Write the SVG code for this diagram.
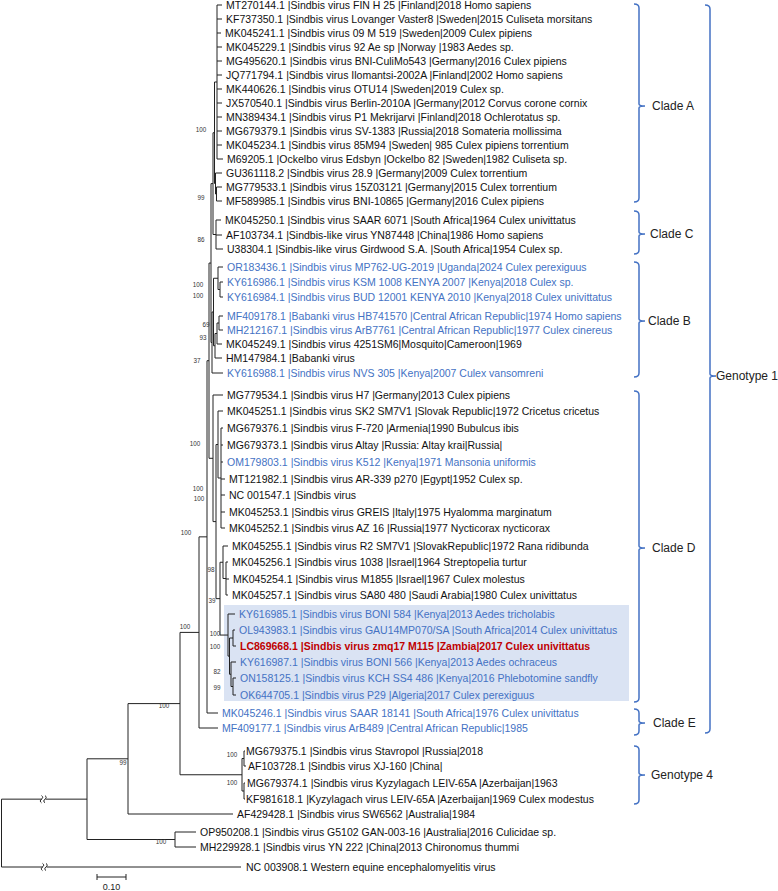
<svg xmlns="http://www.w3.org/2000/svg" width="778" height="891" viewBox="0 0 778 891">
<style>
text{font-family:'Liberation Sans',Arial,sans-serif}
.t{font-size:10.5px;fill:#111}
.b{fill:#4472c4}
.r{fill:#c00000;font-weight:bold}
.bs{font-size:6.3px;fill:#333;text-anchor:middle}
.cl{font-size:12px;fill:#222}
.tree{fill:none;stroke:#222;stroke-width:1}
.br{fill:none;stroke:#4472c4;stroke-width:1.5}
</style>
<rect width="778" height="891" fill="#fff"/>
<rect id="highlight" x="224" y="605" width="405" height="96" fill="#dae3f3"/>
<g id="connectors" class="tree">
<path d="M217 5V159M217 5H222M217 19H222M217 33H221M217 47H222M217 61H222M217 75H222M217 89H222M217 103H222M217 117H222M217 131H222M217 145H222M217 159H223
M215.5 173V194M215.5 173H222M215.5 194H216.5
M216.5 187V201M216.5 187H222M216.5 201H222
M214.5 82V183.5M214.5 82H217M214.5 183.5H215.5
M216 220V249M216 220H221M216 235H222M216 249H223
M213 132.75V234.5M213 132.75H214.5M213 234.5H216
M220 282V297M220 282H223M220 297H223
M218 267V289.5M218 267H223M218 289.5H220
M219 316V330M219 316H223M219 330H223
M217 323V344M217 323H219M217 344H222
M215 333.5V358M215 333.5H217M215 358H222
M213.5 278.25V345.75M213.5 278.25H218M213.5 345.75H215
M212 312V373M212 312H213.5M212 373H223
M211 183.6V342.5M211 183.6H213M211 342.5H212
M221 428V528M221 428H223M221 445H223M221 462H223M221 479H225M221 495H225M221 512H225M221 528H225
M218 411V478M218 411H223M218 478H221
M226 562V595M226 562H228M226 579H229M226 595H228
M223 546V578.5M223 546H228M223 578.5H226
M233 630V646M233 630H235M233 646H236
M233 678V695M233 678H236M233 695H236
M231 662V686.5M231 662H236M231 686.5H233
M229.5 638V674.25M229.5 638H233M229.5 674.25H231
M228 614V656.1M228 614H235M228 656.1H229.5
M220 562.25V635.05M220 562.25H223M220 635.05H228
M216 444.5V598.65M216 444.5H218M216 598.65H220
M213 395V521.6M213 395H223M213 521.6H216
M209 263.05V458.3M209 263.05H211M209 458.3H213
M207 360.7V713M207 360.7H209M207 713H218
M199 536.85V728M199 536.85H207M199 728H218
M244 751V766M244 751H245M244 766H246
M244 783V799M244 783H245M244 799H245
M242 758.5V791M242 758.5H244M242 791H244
M180 632.4V774.75M180 632.4H199M180 774.75H242
M128 703.6V814M128 703.6H180M128 814H233
M175 832V847M175 832H196M175 847H196
M87 758.8V839.5M87 758.8H128M87 839.5H175
M1.5 799.15V867M1.5 799.15H42M45.5 799.15H87M1.5 867H43M46.5 867H241"/>
<path d="M41.5 795.6c1.6 1 1.6 2.6 0 3.6s-1.6 2.6 0 3.6M45 795.6c1.6 1 1.6 2.6 0 3.6s-1.6 2.6 0 3.6M42.5 863.4c1.6 1 1.6 2.6 0 3.6s-1.6 2.6 0 3.6M46 863.4c1.6 1 1.6 2.6 0 3.6s-1.6 2.6 0 3.6"/>
</g>
<g id="scale-bar">
<path class="tree" d="M97 877H126M97 874V880M126 874V880"/>
<text x="111.5" y="890" style="font-size:9px;fill:#222" text-anchor="middle">0.10</text>
</g>
<g id="bootstrap">
<text class="bs" x="201" y="132.2">100</text>
<text class="bs" x="201" y="200.2">99</text>
<text class="bs" x="201" y="242.2">86</text>
<text class="bs" x="198" y="287.2">100</text>
<text class="bs" x="198" y="298.2">100</text>
<text class="bs" x="206" y="327.2">69</text>
<text class="bs" x="203" y="340.2">93</text>
<text class="bs" x="197" y="363.2">37</text>
<text class="bs" x="195" y="446.2">100</text>
<text class="bs" x="198" y="491.2">100</text>
<text class="bs" x="199" y="501.2">100</text>
<text class="bs" x="186" y="535.2">100</text>
<text class="bs" x="211" y="572.2">98</text>
<text class="bs" x="212" y="603.2">39</text>
<text class="bs" x="215" y="636.2">100</text>
<text class="bs" x="215" y="649.2">100</text>
<text class="bs" x="217" y="674.2">82</text>
<text class="bs" x="217" y="690.2">99</text>
<text class="bs" x="185" y="629.2">100</text>
<text class="bs" x="164" y="708.2">100</text>
<text class="bs" x="232" y="757.2">100</text>
<text class="bs" x="232" y="785.2">100</text>
<text class="bs" x="123" y="765.2">99</text>
<text class="bs" x="161" y="844.2">100</text>
</g>
<g id="leaves" class="t">
<g id="n1"><text x="226" y="8.7">MT270144.1 |Sindbis virus FIN H 25 |Finland|2018 Homo sapiens</text></g>
<g id="n2"><text x="226" y="22.7">KF737350.1 |Sindbis virus Lovanger Vaster8 |Sweden|2015 Culiseta morsitans</text></g>
<g id="n3"><text x="225" y="36.7">MK045241.1 |Sindbis virus 09 M 519 |Sweden|2009 Culex pipiens</text></g>
<g id="n4"><text x="226" y="50.7">MK045229.1 |Sindbis virus 92 Ae sp |Norway |1983 Aedes sp.</text></g>
<g id="n5"><text x="226" y="64.7">MG495620.1 |Sindbis virus BNI-CuliMo543 |Germany|2016 Culex pipiens</text></g>
<g id="n6"><text x="226" y="78.7">JQ771794.1 |Sindbis virus Ilomantsi-2002A |Finland|2002 Homo sapiens</text></g>
<g id="n7"><text x="226" y="92.7">MK440626.1 |Sindbis virus OTU14 |Sweden|2019 Culex sp.</text></g>
<g id="n8"><text x="226" y="106.7">JX570540.1 |Sindbis virus Berlin-2010A |Germany|2012 Corvus corone cornix</text></g>
<g id="n9"><text x="226" y="120.7">MN389434.1 |Sindbis virus P1 Mekrijarvi |Finland|2018 Ochlerotatus sp.</text></g>
<g id="n10"><text x="226" y="134.7">MG679379.1 |Sindbis virus SV-1383 |Russia|2018 Somateria mollissima</text></g>
<g id="n11"><text x="226" y="148.7">MK045234.1 |Sindbis virus 85M94 |Sweden| 985 Culex pipiens torrentium</text></g>
<g id="n12"><text x="227" y="162.7">M69205.1 |Ockelbo virus Edsbyn |Ockelbo 82 |Sweden|1982 Culiseta sp.</text></g>
<g id="n13"><text x="226" y="176.7">GU361118.2 |Sindbis virus 28.9 |Germany|2009 Culex torrentium</text></g>
<g id="n14"><text x="226" y="190.7">MG779533.1 |Sindbis virus 15Z03121 |Germany|2015 Culex torrentium</text></g>
<g id="n15"><text x="226" y="204.7">MF589985.1 |Sindbis virus BNI-10865 |Germany|2016 Culex pipiens</text></g>
<g id="n16"><text x="225" y="223.7">MK045250.1 |Sindbis virus SAAR 6071 |South Africa|1964 Culex univittatus</text></g>
<g id="n17"><text x="226" y="238.7">AF103734.1 |Sindbis-like virus YN87448 |China|1986 Homo sapiens</text></g>
<g id="n18"><text x="227" y="252.7">U38304.1 |Sindbis-like virus Girdwood S.A. |South Africa|1954 Culex sp.</text></g>
<g id="n19"><text class="b" x="227" y="270.7">OR183436.1 |Sindbis virus MP762-UG-2019 |Uganda|2024 Culex perexiguus</text></g>
<g id="n20"><text class="b" x="227" y="285.7">KY616986.1 |Sindbis virus KSM 1008 KENYA 2007 |Kenya|2018 Culex sp.</text></g>
<g id="n21"><text class="b" x="227" y="300.7">KY616984.1 |Sindbis virus BUD 12001 KENYA 2010 |Kenya|2018 Culex univittatus</text></g>
<g id="n22"><text class="b" x="227" y="319.7">MF409178.1 |Babanki virus HB741570 |Central African Republic|1974 Homo sapiens</text></g>
<g id="n23"><text class="b" x="227" y="333.7">MH212167.1 |Sindbis virus ArB7761 |Central African Republic|1977 Culex cinereus</text></g>
<g id="n24"><text x="226" y="347.7">MK045249.1 |Sindbis virus 4251SM6|Mosquito|Cameroon|1969</text></g>
<g id="n25"><text x="226" y="361.7">HM147984.1 |Babanki virus</text></g>
<g id="n26"><text class="b" x="227" y="376.7">KY616988.1 |Sindbis virus NVS 305 |Kenya|2007 Culex vansomreni</text></g>
<g id="n27"><text x="227" y="398.7">MG779534.1 |Sindbis virus H7 |Germany|2013 Culex pipiens</text></g>
<g id="n28"><text x="227" y="414.7">MK045251.1 |Sindbis virus SK2 SM7V1 |Slovak Republic|1972 Cricetus cricetus</text></g>
<g id="n29"><text x="227" y="431.7">MG679376.1 |Sindbis virus F-720 |Armenia|1990 Bubulcus ibis</text></g>
<g id="n30"><text x="227" y="448.7">MG679373.1 |Sindbis virus Altay |Russia: Altay krai|Russia|</text></g>
<g id="n31"><text class="b" x="227" y="465.7">OM179803.1 |Sindbis virus K512 |Kenya|1971 Mansonia uniformis</text></g>
<g id="n32"><text x="229" y="482.7">MT121982.1 |Sindbis virus AR-339 p270 |Egypt|1952 Culex sp.</text></g>
<g id="n33"><text x="229" y="498.7">NC 001547.1 |Sindbis virus</text></g>
<g id="n34"><text x="229" y="515.7">MK045253.1 |Sindbis virus GREIS |Italy|1975 Hyalomma marginatum</text></g>
<g id="n35"><text x="229" y="531.7">MK045252.1 |Sindbis virus AZ 16 |Russia|1977 Nycticorax nycticorax</text></g>
<g id="n36"><text x="232" y="549.7">MK045255.1 |Sindbis virus R2 SM7V1 |SlovakRepublic|1972 Rana ridibunda</text></g>
<g id="n37"><text x="232" y="565.7">MK045256.1 |Sindbis virus 1038 |Israel|1964 Streptopelia turtur</text></g>
<g id="n38"><text x="233" y="582.7">MK045254.1 |Sindbis virus M1855 |Israel|1967 Culex molestus</text></g>
<g id="n39"><text x="232" y="598.7">MK045257.1 |Sindbis virus SA80 480 |Saudi Arabia|1980 Culex univittatus</text></g>
<g id="n40"><text class="b" x="239" y="617.7">KY616985.1 |Sindbis virus BONI 584 |Kenya|2013 Aedes tricholabis</text></g>
<g id="n41"><text class="b" x="239" y="633.7">OL943983.1 |Sindbis virus GAU14MP070/SA |South Africa|2014 Culex univittatus</text></g>
<g id="n42"><text class="r" x="240" y="649.7">LC869668.1 |Sindbis virus zmq17 M115 |Zambia|2017 Culex univittatus</text></g>
<g id="n43"><text class="b" x="240" y="665.7">KY616987.1 |Sindbis virus BONI 566 |Kenya|2013 Aedes ochraceus</text></g>
<g id="n44"><text class="b" x="240" y="681.7">ON158125.1 |Sindbis virus KCH SS4 486 |Kenya|2016 Phlebotomine sandfly</text></g>
<g id="n45"><text class="b" x="240" y="698.7">OK644705.1 |Sindbis virus P29 |Algeria|2017 Culex perexiguus</text></g>
<g id="n46"><text class="b" x="222" y="716.7">MK045246.1 |Sindbis virus SAAR 18141 |South Africa|1976 Culex univittatus</text></g>
<g id="n47"><text class="b" x="222" y="731.7">MF409177.1 |Sindbis virus ArB489 |Central African Republic|1985</text></g>
<g id="n48"><text x="246" y="754.7">MG679375.1 |Sindbis virus Stavropol |Russia|2018</text></g>
<g id="n49"><text x="248" y="769.7">AF103728.1 |Sindbis virus XJ-160 |China|</text></g>
<g id="n50"><text x="247" y="786.7">MG679374.1 |Sindbis virus Kyzylagach LEIV-65A |Azerbaijan|1963</text></g>
<g id="n51"><text x="246" y="802.7">KF981618.1 |Kyzylagach virus LEIV-65A |Azerbaijan|1969 Culex modestus</text></g>
<g id="n52"><text x="237" y="817.7">AF429428.1 |Sindbis virus SW6562 |Australia|1984</text></g>
<g id="n53"><text x="200" y="835.7">OP950208.1 |Sindbis virus G5102 GAN-003-16 |Australia|2016 Culicidae sp.</text></g>
<g id="n54"><text x="200" y="850.7">MH229928.1 |Sindbis virus YN 222 |China|2013 Chironomus thummi</text></g>
<g id="n55"><text x="246" y="870.7">NC 003908.1 Western equine encephalomyelitis virus</text></g>
</g>
<g id="clade-A"><path class="br" d="M634 4Q639 4 639 8V104Q639 106 645 106Q639 106 639 108V198Q639 202 634 202"/><text class="cl" x="652" y="110.3">Clade A</text></g>
<g id="clade-C"><path class="br" d="M634 211Q639 211 639 215V232Q639 234 645 234Q639 234 639 236V250Q639 254 634 254"/><text class="cl" x="650" y="238.3">Clade C</text></g>
<g id="clade-B"><path class="br" d="M634 262Q639 262 639 266V319Q639 321 645 321Q639 321 639 323V373Q639 377 634 377"/><text class="cl" x="648" y="325.3">Clade B</text></g>
<g id="clade-D"><path class="br" d="M634 391Q639 391 639 395V546Q639 548 645 548Q639 548 639 550V698Q639 702 634 702"/><text class="cl" x="652" y="552.3">Clade D</text></g>
<g id="clade-E"><path class="br" d="M634 709Q639 709 639 713V721Q639 723 645 723Q639 723 639 725V731Q639 735 634 735"/><text class="cl" x="653" y="727.3">Clade E</text></g>
<g id="genotype-4"><path class="br" d="M634 746Q639 746 639 750V773Q639 775 645 775Q639 775 639 777V800Q639 804 634 804"/><text class="cl" x="651" y="779.3">Genotype 4</text></g>
<g id="genotype-1"><path class="br" d="M705 5Q710 5 710 9V374Q710 376 716 376Q710 376 710 378V729Q710 733 705 733"/><text class="cl" x="716" y="380.3">Genotype 1</text></g>
</svg>
